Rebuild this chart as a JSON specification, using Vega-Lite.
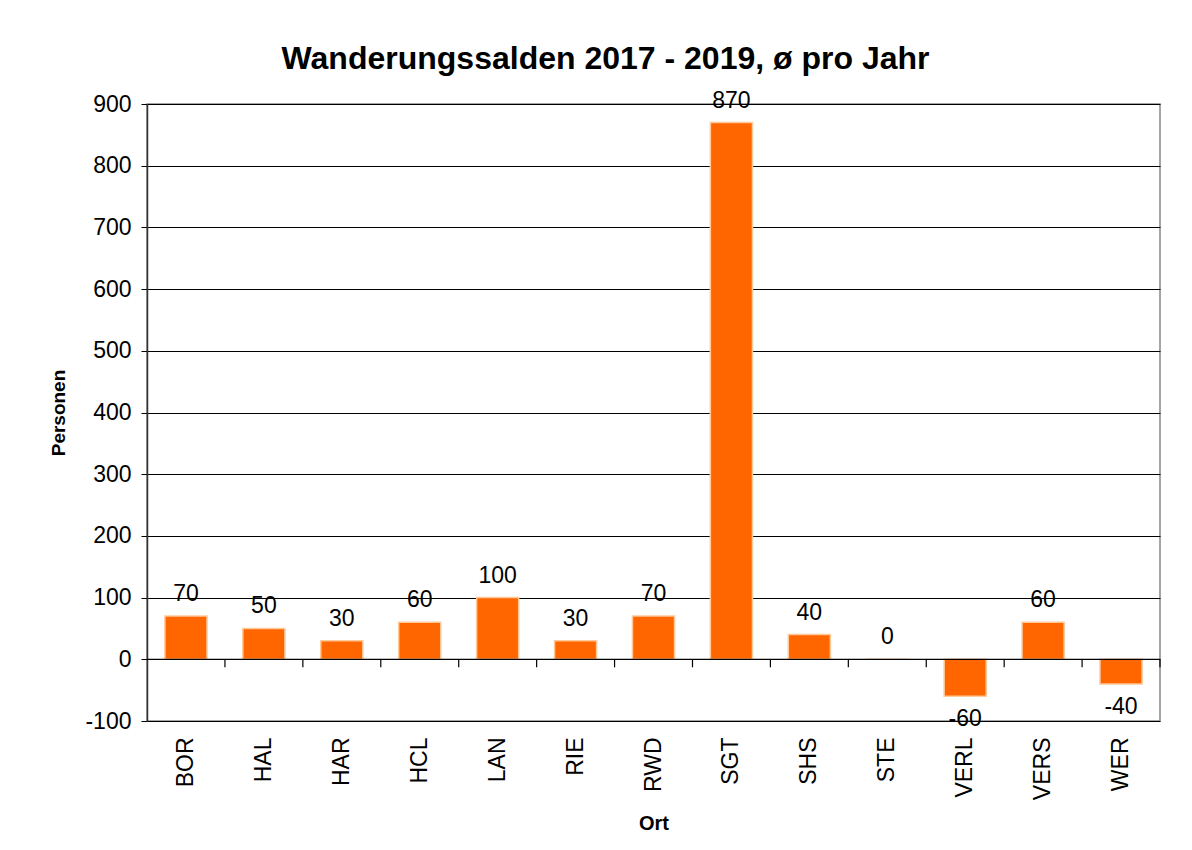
{
  "$schema": "https://vega.github.io/schema/vega-lite/v6.json",
  "autosize": "none",
  "width": 1013,
  "height": 617,
  "padding": {"left": 147, "top": 104, "right": 32, "bottom": 129},
  "background": "white",
  "config": {
    "font": "Liberation Sans",
    "view": {"stroke": "#888888", "strokeWidth": 1.5}
  },
  "title": {
    "text": "Wanderungssalden 2017 - 2019, ø pro Jahr",
    "fontSize": 32,
    "fontWeight": "bold",
    "font": "Liberation Sans",
    "color": "black",
    "anchor": "middle",
    "frame": "group",
    "dx": -48,
    "offset": 14
  },
  "data": {
    "values": [
      {"Ort": "BOR", "Personen": 70},
      {"Ort": "HAL", "Personen": 50},
      {"Ort": "HAR", "Personen": 30},
      {"Ort": "HCL", "Personen": 60},
      {"Ort": "LAN", "Personen": 100},
      {"Ort": "RIE", "Personen": 30},
      {"Ort": "RWD", "Personen": 70},
      {"Ort": "SGT", "Personen": 870},
      {"Ort": "SHS", "Personen": 40},
      {"Ort": "STE", "Personen": 0},
      {"Ort": "VERL", "Personen": -60},
      {"Ort": "VERS", "Personen": 60},
      {"Ort": "WER", "Personen": -40}
    ]
  },
  "layer": [
    {
      "mark": {"type": "bar", "color": "#FF6600", "stroke": "#FFC999", "strokeWidth": 1.5},
      "encoding": {
        "x": {
          "field": "Ort",
          "type": "nominal",
          "sort": null,
          "scale": {"paddingInner": 0.46, "paddingOuter": 0.23},
          "axis": {
            "title": "Ort",
            "titleFontSize": 20,
            "titleFontWeight": "bold",
            "titleColor": "black",
            "titlePadding": 14,
            "labelAngle": -90,
            "labelAlign": "right",
            "labelBaseline": "middle",
            "labelFontSize": 23,
            "labelColor": "black",
            "labelPadding": 16,
            "ticks": false,
            "domain": false
          }
        },
        "y": {
          "field": "Personen",
          "type": "quantitative",
          "scale": {"domain": [-100, 900], "nice": false},
          "axis": {
            "title": "Personen",
            "titleFontSize": 19,
            "titleFontWeight": "bold",
            "titleColor": "black",
            "titlePadding": 16,
            "values": [-100, 0, 100, 200, 300, 400, 500, 600, 700, 800, 900],
            "labelExpr": "'' + datum.value",
            "labelFontSize": 23,
            "labelColor": "black",
            "labelPadding": 10,
            "tickSize": 6,
            "tickColor": "black",
            "domainColor": "#333333",
            "domainWidth": 1.5,
            "gridColor": "black",
            "gridOpacity": 1,
            "gridWidth": 1
          }
        }
      }
    },
    {
      "transform": [{"filter": "datum.Personen >= 0"}],
      "mark": {"type": "text", "fontSize": 23, "baseline": "alphabetic", "dy": -15, "color": "black"},
      "encoding": {
        "x": {"field": "Ort", "type": "nominal", "sort": null},
        "y": {"field": "Personen", "type": "quantitative"},
        "text": {"field": "Personen", "type": "nominal"}
      }
    },
    {
      "transform": [{"filter": "datum.Personen < 0"}],
      "mark": {"type": "text", "fontSize": 23, "baseline": "top", "dy": 12, "color": "black"},
      "encoding": {
        "x": {"field": "Ort", "type": "nominal", "sort": null},
        "y": {"field": "Personen", "type": "quantitative"},
        "text": {"field": "Personen", "type": "nominal"}
      }
    },
    {
      "transform": [{"filter": "datum.Ort == 'BOR'"}],
      "mark": {"type": "rule", "color": "black", "strokeWidth": 1.2},
      "encoding": {
        "y": {"datum": 0, "type": "quantitative"}
      }
    },
    {
      "transform": [{"filter": "datum.Ort != 'BOR'"}],
      "mark": {"type": "rule", "color": "black", "strokeWidth": 1.2, "xOffset": -17.9},
      "encoding": {
        "x": {"field": "Ort", "type": "nominal", "sort": null, "bandPosition": 0},
        "y": {"datum": 0, "type": "quantitative"},
        "y2": {"datum": -13}
      }
    },
    {
      "transform": [{"filter": "datum.Ort == 'WER'"}],
      "mark": {"type": "rule", "color": "black", "strokeWidth": 1.2, "xOffset": 17.9},
      "encoding": {
        "x": {"field": "Ort", "type": "nominal", "sort": null, "bandPosition": 1},
        "y": {"datum": 0, "type": "quantitative"},
        "y2": {"datum": -13}
      }
    }
  ]
}
